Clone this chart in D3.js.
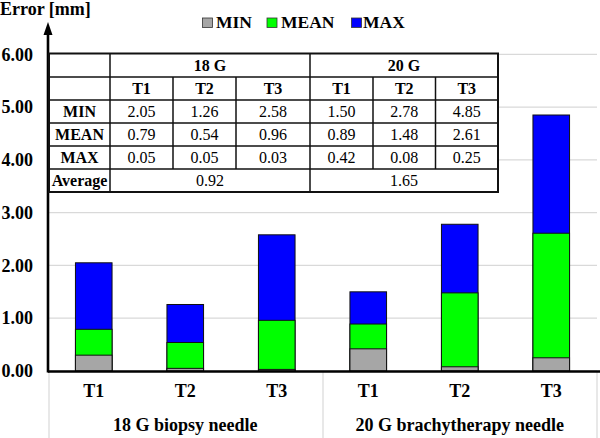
<!DOCTYPE html>
<html><head><meta charset="utf-8">
<script src="https://cdn.jsdelivr.net/npm/d3@7"></script>
<style>
html,body{margin:0;padding:0;background:#fff;}
</style></head>
<body><svg id="c" width="600" height="438" font-family="'Liberation Serif', 'DejaVu Serif', serif"></svg>
<script>
// ---- data ----
const groups = ["18 G biopsy needle", "20 G brachytherapy needle"];
const tests = ["T1", "T2", "T3"];
const seriesNames = ["MIN", "MEAN", "MAX"];
const minVals  = [0.30, 0.05, 0.03, 0.42, 0.08, 0.25];
const meanVals = [0.79, 0.54, 0.96, 0.89, 1.48, 2.61];
const maxVals  = [2.05, 1.26, 2.58, 1.50, 2.78, 4.85];
const yTicks = [0, 1, 2, 3, 4, 5, 6];
// table text
const tableGroups = ["18 G", "20 G"];
const tableRowLabels = ["MIN", "MEAN", "MAX"];
const tableRowMin  = ["2.05", "1.26", "2.58", "1.50", "2.78", "4.85"];
const tableRowMean = ["0.79", "0.54", "0.96", "0.89", "1.48", "2.61"];
const tableRowMax  = ["0.05", "0.05", "0.03", "0.42", "0.08", "0.25"];
const tableAverages = ["0.92", "1.65"];

const colors = {MIN: "#a6a6a6", MEAN: "#00ff00", MAX: "#0000ff"};
const FONT = "'Liberation Serif', 'DejaVu Serif', serif";

const svg = d3.select("#c");
const x0 = 48, x1 = 597, yBottom = 371, yTop = 54.3;

const ids = [];
groups.forEach((g, gi) => tests.forEach(t => ids.push(gi + "-" + t)));

const x = d3.scaleBand().domain(ids).range([x0, x1]).paddingInner(0.6).paddingOuter(0.3);
const y = d3.scaleLinear().domain([0, 6]).range([yBottom, yTop]);

// gridlines
svg.append("g").selectAll("line").data(yTicks).join("line")
  .attr("x1", x0).attr("x2", x1)
  .attr("y1", d => y(d)).attr("y2", d => y(d))
  .attr("stroke", "#d9d9d9").attr("stroke-width", 1.2);

// y-axis labels
const yAxis = d3.axisLeft(y).tickValues(yTicks).tickFormat(d3.format(".2f")).tickSize(0).tickPadding(15);
const ya = svg.append("g").attr("transform", `translate(${x0},0)`).call(yAxis);
ya.attr("font-family", FONT);
ya.select(".domain").remove();
ya.selectAll("text").attr("font-family", FONT).attr("font-size", 18)
  .attr("font-weight", "bold").attr("fill", "#000");

// bars (drawn from zero, overlapping)
const seriesData = {MAX: maxVals, MEAN: meanVals, MIN: minVals};
["MAX", "MEAN", "MIN"].forEach(s => {
  svg.append("g").selectAll("rect").data(seriesData[s]).join("rect")
    .attr("x", (d, i) => x(ids[i]))
    .attr("width", x.bandwidth())
    .attr("y", d => y(d))
    .attr("height", d => y(0) - y(d))
    .attr("fill", colors[s])
    .attr("stroke", "#111").attr("stroke-width", 1);
});

// category separators under axis
const groupStep = (x1 - x0) / groups.length;
svg.append("g").selectAll("line").data(d3.range(groups.length + 1)).join("line")
  .attr("x1", i => x0 + 1 + i * (groupStep - 0.5)).attr("x2", i => x0 + 1 + i * (groupStep - 0.5))
  .attr("y1", yBottom).attr("y2", 438)
  .attr("stroke", "#d9d9d9").attr("stroke-width", 1.2);

// x tick labels
svg.append("g").selectAll("text").data(ids).join("text")
  .attr("x", d => x(d) + x.bandwidth() / 2).attr("y", 397)
  .attr("text-anchor", "middle").attr("font-family", FONT).attr("font-size", 18).attr("font-weight", "bold")
  .text(d => d.split("-")[1]);
svg.append("g").selectAll("text").data(groups).join("text")
  .attr("x", (d, i) => x0 + groupStep * (i + 0.5)).attr("y", 431)
  .attr("text-anchor", "middle").attr("font-family", FONT).attr("font-size", 18).attr("font-weight", "bold")
  .text(d => d);

// axes lines
svg.append("line").attr("x1", x0).attr("x2", 600).attr("y1", yBottom + 0.5).attr("y2", yBottom + 0.5)
  .attr("stroke", "#000").attr("stroke-width", 2.6);
svg.append("line").attr("x1", x0).attr("x2", x0).attr("y1", yBottom + 1.5).attr("y2", 32)
  .attr("stroke", "#000").attr("stroke-width", 2.6);
svg.append("path").attr("d", `M${x0},22 L${x0 - 4.5},35 L${x0 + 4.5},35 Z`).attr("fill", "#000");

// axis title
svg.append("text").attr("x", 0).attr("y", 15).attr("font-family", FONT).attr("font-size", 18).attr("font-weight", "bold").text("Error [mm]");

// legend
const legendPos = [{s: "MIN", bx: 202.5, tx: 216}, {s: "MEAN", bx: 267, tx: 281}, {s: "MAX", bx: 351.5, tx: 363}];
legendPos.forEach(l => {
  svg.append("rect").attr("x", l.bx).attr("y", 18).attr("width", 10).attr("height", 9.5)
    .attr("fill", colors[l.s]).attr("stroke", "#333").attr("stroke-width", 0.8);
  svg.append("text").attr("x", l.tx).attr("y", 28).attr("font-family", FONT).attr("font-size", 17.5).attr("font-weight", "bold").text(l.s);
});

// ---- table ----
const colX = [49, 110, 173, 236, 310, 373, 435.5, 498];
const rowY = [53.5, 77, 100, 123, 146, 169, 192];
const tg = svg.append("g");
tg.append("rect").attr("x", colX[0]).attr("y", rowY[0]).attr("width", colX[7] - colX[0]).attr("height", rowY[6] - rowY[0])
  .attr("fill", "#fff");
const L = (xa, ya1, xb, yb, w) => tg.append("line").attr("x1", xa).attr("y1", ya1).attr("x2", xb).attr("y2", yb)
  .attr("stroke", "#111").attr("stroke-width", w || 1.5);
// horizontal
for (let r = 1; r < 6; r++) L(colX[0], rowY[r], colX[7], rowY[r]);
// vertical
L(colX[1], rowY[0], colX[1], rowY[6]);
L(colX[4], rowY[0], colX[4], rowY[6]);
[2, 3, 5, 6].forEach(c => L(colX[c], rowY[1], colX[c], rowY[5]));
// border
tg.append("rect").attr("x", colX[0]).attr("y", rowY[0]).attr("width", colX[7] - colX[0]).attr("height", rowY[6] - rowY[0])
  .attr("fill", "none").attr("stroke", "#111").attr("stroke-width", 2);

const T = (tx, ty, s, bold) => tg.append("text").attr("x", tx).attr("y", ty + 5.5)
  .attr("text-anchor", "middle").attr("font-family", FONT).attr("font-size", 16).attr("font-weight", bold ? "bold" : "normal").text(s);
const mid = (a, b) => (a + b) / 2;
tableGroups.forEach((g, gi) => T(mid(colX[1 + gi * 3], colX[4 + gi * 3]), mid(rowY[0], rowY[1]), g, true));
for (let c = 0; c < 6; c++) T(mid(colX[c + 1], colX[c + 2]), mid(rowY[1], rowY[2]), tests[c % 3], true);
const rowsVals = [tableRowMin, tableRowMean, tableRowMax];
tableRowLabels.forEach((lab, r) => {
  T(mid(colX[0], colX[1]), mid(rowY[r + 2], rowY[r + 3]), lab, true);
  rowsVals[r].forEach((v, c) => T(mid(colX[c + 1], colX[c + 2]), mid(rowY[r + 2], rowY[r + 3]), v, false));
});
T(mid(colX[0], colX[1]), mid(rowY[5], rowY[6]), "Average", true);
tableAverages.forEach((v, gi) => T(mid(colX[1 + gi * 3], colX[4 + gi * 3]), mid(rowY[5], rowY[6]), v, false));
</script></body></html>
